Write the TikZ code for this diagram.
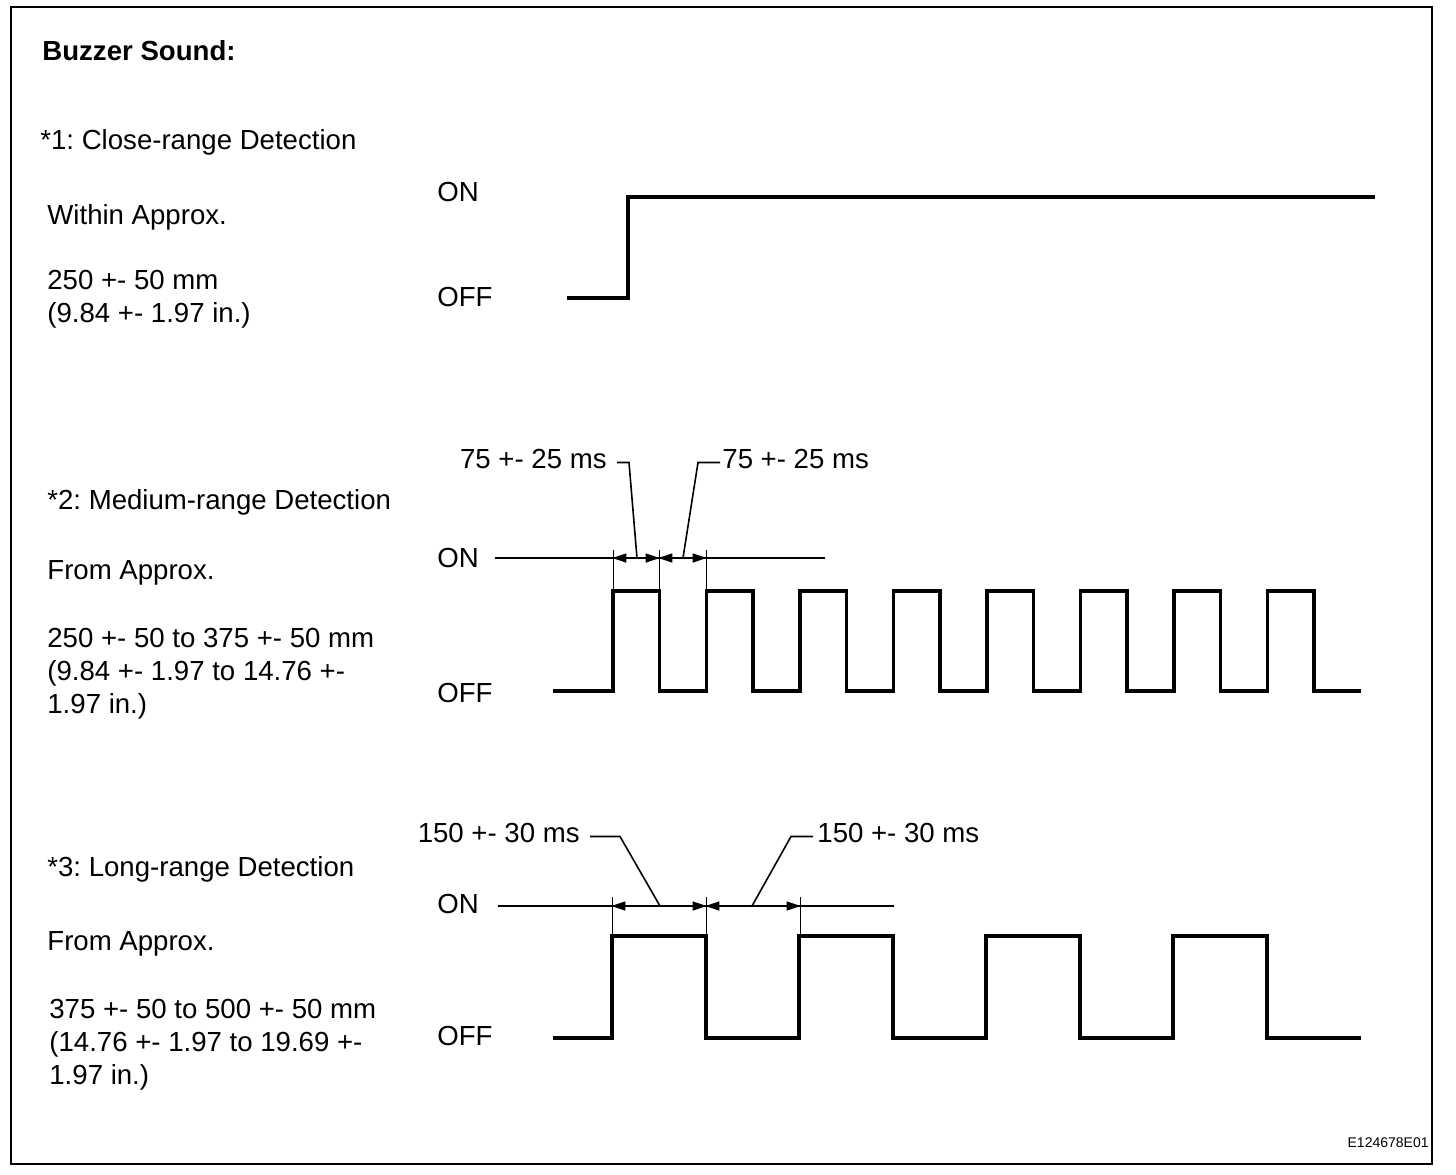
\documentclass[tikz,border=0pt]{standalone}
\usepackage{fontspec}
\setmainfont{Liberation Sans}
\usetikzlibrary{arrows.meta}
\frenchspacing
\newcommand\txt[4]{\node[lbl] (#1) at (#2,#3) {#4};}
\tikzset{
  lbl/.style={inner sep=0pt, anchor=base west, font=\fontsize{13.8}{16}\selectfont},
  sig/.style={line width=1.7pt, line join=miter},
  thin/.style={line width=0.5pt},
  leader/.style={line width=0.8pt},
  dim/.style={line width=0.8pt, {Triangle[length=7pt,width=4.5pt]}-{Triangle[length=7pt,width=4.5pt]}, shorten <=-0.3pt, shorten >=-0.3pt}
}
\begin{document}
\begin{tikzpicture}[x=0.5pt,y=-0.5pt]
\useasboundingbox (0,0) rectangle (1456,1174);
\draw[line width=1.3pt] (11,7) rectangle (1432,1164);
\node[lbl, font=\fontsize{13.8}{16}\selectfont\bfseries] (title) at (42,60) {Buzzer Sound:};
\txt{c1}{40}{149}{*1: Close-range Detection}
\txt{c1a}{47}{224}{Within Approx.}
\txt{c1b}{47}{289}{250 +- 50 mm}
\txt{c1c}{47}{322}{(9.84 +- 1.97 in.)}
\txt{on1}{437}{201}{ON}
\txt{off1}{437}{306}{OFF}
\draw[sig] (567,298) -- (628,298) -- (628,197) -- (1375,197);

\txt{c2}{47}{509}{*2: Medium-range Detection}
\txt{c2a}{47}{579}{From Approx.}
\txt{c2b}{47}{647}{250 +- 50 to 375 +- 50 mm}
\txt{c2c}{47}{680}{(9.84 +- 1.97 to 14.76 +-}
\txt{c2d}{47}{713}{1.97 in.)}
\txt{on2}{437}{567}{ON}
\txt{off2}{437}{702}{OFF}
\draw[sig] (553,691) \foreach \k in {0,...,7} { -- ({613+93.5*\k},691) -- ({613+93.5*\k},591) -- ({659.5+93.5*\k},591) -- ({659.5+93.5*\k},691) } -- (1361,691);
\draw[leader] (495,558) -- (825,558);
\foreach \x in {613,659,706} \draw[thin] (\x,550) -- (\x,591);
\draw[dim] (613,558) -- (659,558);
\draw[dim] (659,558) -- (706,558);
\node[lbl, anchor=base east] (m1) at (607,468) {75 +- 25 ms};
\node[lbl] (m2) at (722,468) {75 +- 25 ms};
\coordinate (p1) at (637,558);
\coordinate (p2) at (683,558);
\draw[leader] ([xshift=5pt,yshift=-2pt]m1.east) -- ++(12,0) -- (p1);
\draw[leader] (p2) -- ([xshift=-12pt,yshift=-2pt]m2.west) -- ([xshift=-1pt,yshift=-2pt]m2.west);

\txt{c3}{47}{876}{*3: Long-range Detection}
\txt{c3a}{47}{950}{From Approx.}
\txt{c3b}{49}{1018}{375 +- 50 to 500 +- 50 mm}
\txt{c3c}{49}{1051}{(14.76 +- 1.97 to 19.69 +-}
\txt{c3d}{49}{1084}{1.97 in.)}
\txt{on3}{437}{913}{ON}
\txt{off3}{437}{1045}{OFF}
\draw[sig] (553,1038) \foreach \k in {0,...,3} { -- ({612+187*\k},1038) -- ({612+187*\k},936) -- ({706+187*\k},936) -- ({706+187*\k},1038) } -- (1361,1038);
\draw[leader] (498,906) -- (894,906);
\foreach \x in {612,706,800} \draw[thin] (\x,897) -- (\x,936);
\draw[dim] (612,906) -- (706,906);
\draw[dim] (706,906) -- (800,906);
\node[lbl, anchor=base east] (l1) at (580,842) {150 +- 30 ms};
\node[lbl] (l2) at (817,842) {150 +- 30 ms};
\coordinate (q1) at (660,906);
\coordinate (q2) at (752,906);
\draw[leader] ([xshift=5pt,yshift=-2pt]l1.east) -- ++(30,0) -- (q1);
\draw[leader] (q2) -- ([xshift=-13pt,yshift=-2pt]l2.west) -- ([xshift=-2pt,yshift=-2pt]l2.west);

\node[inner sep=0pt, anchor=base east, font=\fontsize{7}{8}\selectfont] (code) at (1429,1147) {E124678E01};
\end{tikzpicture}
\end{document}
